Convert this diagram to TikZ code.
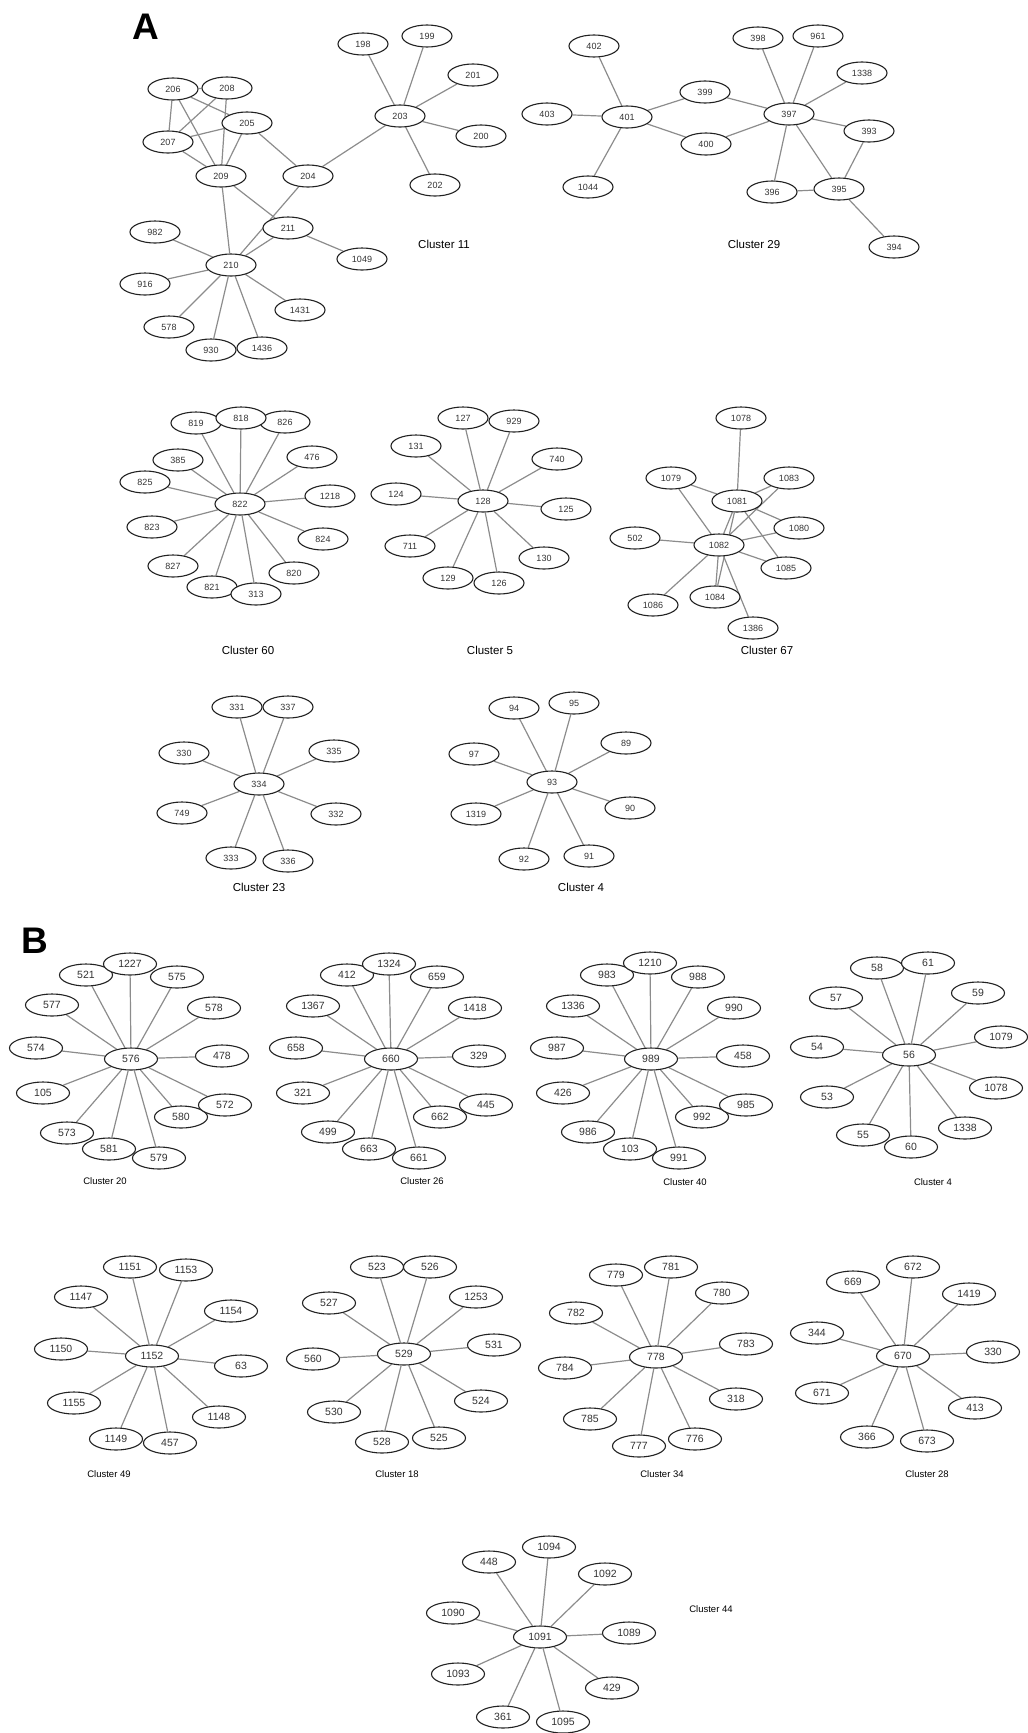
\documentclass[tikz,border=0pt]{standalone}
\usepackage{fontspec}
\setmainfont{Liberation Sans}
\usetikzlibrary{shapes.geometric}
\pgfdeclarelayer{bg}
\pgfsetlayers{bg,main}
\definecolor{edgegray}{HTML}{8C8C8C}
\definecolor{rimdark}{HTML}{222222}
\definecolor{numtext}{HTML}{333333}

\begin{document}
\begin{tikzpicture}[x=1pt,y=-1pt,
    nd/.style={ellipse,draw=rimdark,fill=white,line width=1.1pt,minimum width=50pt,
      minimum height=22pt,inner sep=0pt,text=numtext,font=\fontsize{9}{9}\selectfont},
    ndb/.style={nd,minimum width=53pt,font=\fontsize{10.5}{10.5}\selectfont},
    ln/.style={draw=edgegray,line width=1.2pt},
    clab/.style={font=\fontsize{11.5}{12}\selectfont},
    clabb/.style={font=\fontsize{9.5}{10}\selectfont},
    panel/.style={inner sep=0pt,font=\fontsize{37}{37}\selectfont\bfseries}]
  \useasboundingbox (0,0) rectangle (1028,1733);

  % ---------------- panel A ----------------
  \node[panel] (pA) at (146,27) {A};

  % cluster 11
  \foreach \lbl/\x/\y in {203/400/116,198/363/44,199/427/36,201/473/75,200/481/136,
      202/435/185,206/173/89,208/227/88,205/247/123,207/168/142,209/221/176,
      204/308/176,211/288/228,1049/362/259,982/155/232,210/231/265,916/145/284,
      1431/300/310,578/169/327,930/211/350,1436/262/348}
    \node[nd] (c11-\lbl) at (\x,\y) {\lbl};
  \begin{pgfonlayer}{bg}
    \foreach \a/\b in {206/208,206/207,206/209,206/205,208/207,208/209,207/205,
        207/209,205/209,205/204,204/203,209/211,209/210,204/210,211/210,211/1049,
        210/982,210/916,210/578,210/930,210/1436,210/1431,
        203/198,203/199,203/201,203/200,203/202}
      \draw[ln] (c11-\a) -- (c11-\b);
  \end{pgfonlayer}
  \node[clab] (lab11) at (444,244) {Cluster 11};

  % cluster 29
  \foreach \lbl/\x/\y in {401/627/117,402/594/46,403/547/114,1044/588/187,399/705/92,
      400/706/144,397/789/114,398/758/38,961/818/36,1338/862/73,393/869/131,
      396/772/192,395/839/189,394/894/247}
    \node[nd] (c29-\lbl) at (\x,\y) {\lbl};
  \begin{pgfonlayer}{bg}
    \foreach \a/\b in {401/402,401/403,401/1044,401/399,401/400,397/399,397/400,
        397/398,397/961,397/1338,397/393,397/396,397/395,395/393,395/396,395/394}
      \draw[ln] (c29-\a) -- (c29-\b);
  \end{pgfonlayer}
  \node[clab] (lab29) at (754,244) {Cluster 29};

  % cluster 60
  \node[nd] (c60-822) at (240,504) {822};
  \foreach \lbl/\x/\y in {819/196/423,826/285/422,818/241/418,385/178/460,476/312/457,
      825/145/482,1218/330/496,823/152/527,824/323/539,827/173/566,820/294/573,
      821/212/587,313/256/594} {
    \node[nd] (c60-\lbl) at (\x,\y) {\lbl};
    \begin{pgfonlayer}{bg}\draw[ln] (c60-822) -- (c60-\lbl);\end{pgfonlayer}
  }
  \node[clab] (lab60) at (248,650) {Cluster 60};

  % cluster 5
  \node[nd] (c5-128) at (483,501) {128};
  \foreach \lbl/\x/\y in {127/463/418,929/514/421,131/416/446,740/557/459,124/396/494,
      125/566/509,711/410/546,130/544/558,129/448/578,126/499/583} {
    \node[nd] (c5-\lbl) at (\x,\y) {\lbl};
    \begin{pgfonlayer}{bg}\draw[ln] (c5-128) -- (c5-\lbl);\end{pgfonlayer}
  }
  \node[clab] (lab5) at (490,650) {Cluster 5};

  % cluster 67
  \foreach \lbl/\x/\y in {1078/741/418,1079/671/478,1083/789/478,1081/737/501,
      1080/799/528,502/635/538,1082/719/545,1085/786/568,1084/715/597,
      1086/653/605,1386/753/628}
    \node[nd] (c67-\lbl) at (\x,\y) {\lbl};
  \begin{pgfonlayer}{bg}
    \foreach \a/\b in {1081/1078,1081/1079,1081/1083,1081/1080,1081/1085,1081/1082,
        1081/1084,1082/1079,1082/1083,1082/502,1082/1080,1082/1085,1082/1084,
        1082/1086,1082/1386}
      \draw[ln] (c67-\a) -- (c67-\b);
  \end{pgfonlayer}
  \node[clab] (lab67) at (767,650) {Cluster 67};

  % cluster 23
  \node[nd] (c23-334) at (259,784) {334};
  \foreach \lbl/\x/\y in {331/237/707,337/288/707,330/184/753,335/334/751,749/182/813,
      332/336/814,333/231/858,336/288/861} {
    \node[nd] (c23-\lbl) at (\x,\y) {\lbl};
    \begin{pgfonlayer}{bg}\draw[ln] (c23-334) -- (c23-\lbl);\end{pgfonlayer}
  }
  \node[clab] (lab23) at (259,887) {Cluster 23};

  % cluster 4 (A)
  \node[nd] (c4a-93) at (552,782) {93};
  \foreach \lbl/\x/\y in {94/514/708,95/574/703,97/474/754,89/626/743,1319/476/814,
      90/630/808,92/524/859,91/589/856} {
    \node[nd] (c4a-\lbl) at (\x,\y) {\lbl};
    \begin{pgfonlayer}{bg}\draw[ln] (c4a-93) -- (c4a-\lbl);\end{pgfonlayer}
  }
  \node[clab] (lab4a) at (581,887) {Cluster 4};

  % ---------------- panel B ----------------
  \node[panel] (pB) at (35,941) {B};

  % cluster 20
  \node[ndb] (c20-576) at (131,1059) {576};
  \foreach \lbl/\x/\y in {521/86/975,575/177/977,1227/130/964,577/52/1005,578/214/1008,
      574/36/1048,478/222/1056,105/43/1093,580/181/1117,572/225/1105,573/67/1133,
      579/159/1158,581/109/1149} {
    \node[ndb] (c20-\lbl) at (\x,\y) {\lbl};
    \begin{pgfonlayer}{bg}\draw[ln] (c20-576) -- (c20-\lbl);\end{pgfonlayer}
  }
  \node[clabb] (lab20) at (105,1181) {Cluster 20};

  % cluster 26
  \node[ndb] (c26-660) at (391,1059) {660};
  \foreach \lbl/\x/\y in {412/347/975,659/437/977,1324/389/964,1367/313/1006,
      1418/475/1008,658/296/1048,329/479/1056,321/303/1093,662/440/1117,445/486/1105,
      499/328/1132,661/419/1158,663/369/1149} {
    \node[ndb] (c26-\lbl) at (\x,\y) {\lbl};
    \begin{pgfonlayer}{bg}\draw[ln] (c26-660) -- (c26-\lbl);\end{pgfonlayer}
  }
  \node[clabb] (lab26) at (422,1181) {Cluster 26};

  % cluster 40
  \node[ndb] (c40-989) at (651,1059) {989};
  \foreach \lbl/\x/\y in {983/607/975,988/698/977,1210/650/963,1336/573/1006,
      990/734/1008,987/557/1048,458/743/1056,426/563/1093,992/702/1117,985/746/1105,
      986/588/1132,991/679/1158,103/630/1149} {
    \node[ndb] (c40-\lbl) at (\x,\y) {\lbl};
    \begin{pgfonlayer}{bg}\draw[ln] (c40-989) -- (c40-\lbl);\end{pgfonlayer}
  }
  \node[clabb] (lab40) at (685,1182) {Cluster 40};

  % cluster 4 (B)
  \node[ndb] (c4b-56) at (909,1055) {56};
  \foreach \lbl/\x/\y in {58/877/968,61/928/963,57/836/998,59/978/993,54/817/1047,
      1079/1001/1037,53/827/1097,1078/996/1088,1338/965/1128,55/863/1135,60/911/1147} {
    \node[ndb] (c4b-\lbl) at (\x,\y) {\lbl};
    \begin{pgfonlayer}{bg}\draw[ln] (c4b-56) -- (c4b-\lbl);\end{pgfonlayer}
  }
  \node[clabb] (lab4b) at (933,1182) {Cluster 4};

  % cluster 49
  \node[ndb] (c49-1152) at (152,1356) {1152};
  \foreach \lbl/\x/\y in {1151/130/1267,1153/186/1270,1147/81/1297,1154/231/1311,
      1150/61/1349,63/241/1366,1155/74/1403,1148/219/1417,1149/116/1439,457/170/1443} {
    \node[ndb] (c49-\lbl) at (\x,\y) {\lbl};
    \begin{pgfonlayer}{bg}\draw[ln] (c49-1152) -- (c49-\lbl);\end{pgfonlayer}
  }
  \node[clabb] (lab49) at (109,1474) {Cluster 49};

  % cluster 18
  \node[ndb] (c18-529) at (404,1354) {529};
  \foreach \lbl/\x/\y in {523/377/1267,526/430/1267,527/329/1303,1253/476/1297,
      560/313/1359,531/494/1345,524/481/1401,530/334/1412,525/439/1438,528/382/1442} {
    \node[ndb] (c18-\lbl) at (\x,\y) {\lbl};
    \begin{pgfonlayer}{bg}\draw[ln] (c18-529) -- (c18-\lbl);\end{pgfonlayer}
  }
  \node[clabb] (lab18) at (397,1474) {Cluster 18};

  % cluster 34
  \node[ndb] (c34-778) at (656,1357) {778};
  \foreach \lbl/\x/\y in {781/671/1267,779/616/1275,780/722/1293,782/576/1313,
      783/746/1344,784/565/1368,318/736/1399,785/590/1419,776/695/1439,777/639/1446} {
    \node[ndb] (c34-\lbl) at (\x,\y) {\lbl};
    \begin{pgfonlayer}{bg}\draw[ln] (c34-778) -- (c34-\lbl);\end{pgfonlayer}
  }
  \node[clabb] (lab34) at (662,1474) {Cluster 34};

  % cluster 28
  \node[ndb] (c28-670) at (903,1356) {670};
  \foreach \lbl/\x/\y in {672/913/1267,669/853/1282,1419/969/1294,344/817/1333,
      330/993/1352,671/822/1393,413/975/1408,366/867/1437,673/927/1441} {
    \node[ndb] (c28-\lbl) at (\x,\y) {\lbl};
    \begin{pgfonlayer}{bg}\draw[ln] (c28-670) -- (c28-\lbl);\end{pgfonlayer}
  }
  \node[clabb] (lab28) at (927,1474) {Cluster 28};

  % cluster 44
  \node[ndb] (c44-1091) at (540,1637) {1091};
  \foreach \lbl/\x/\y in {1094/549/1547,448/489/1562,1092/605/1574,1090/453/1613,
      1089/629/1633,1093/458/1674,429/612/1688,361/503/1717,1095/563/1722} {
    \node[ndb] (c44-\lbl) at (\x,\y) {\lbl};
    \begin{pgfonlayer}{bg}\draw[ln] (c44-1091) -- (c44-\lbl);\end{pgfonlayer}
  }
  \node[clabb] (lab44) at (711,1609) {Cluster 44};
\end{tikzpicture}
\end{document}
